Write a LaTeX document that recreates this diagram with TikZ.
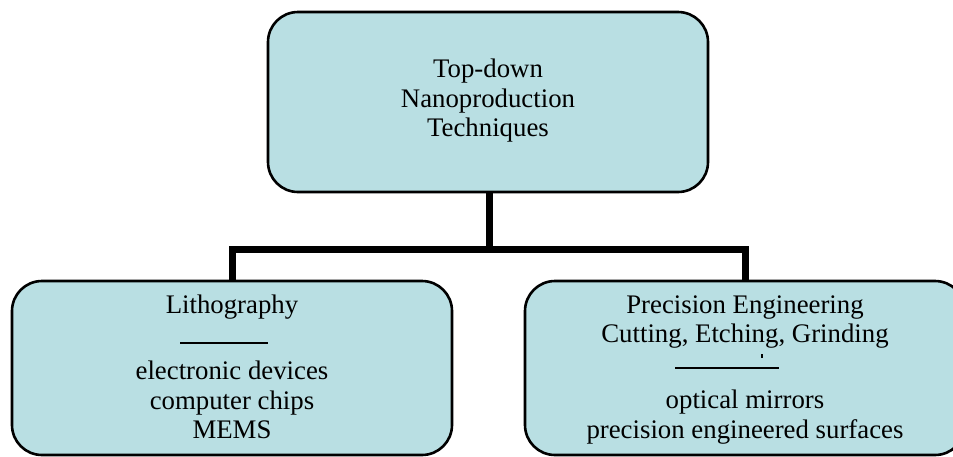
\documentclass[tikz,border=0pt]{standalone}
\usepackage{fontspec}
\setmainfont{Liberation Serif}
\definecolor{boxfill}{HTML}{B9DFE3}

\tikzstyle{box}=[draw=black, line width=2.6pt, fill=boxfill, rounded corners=30pt, inner sep=0pt]
\tikzstyle{label}=[align=center, font=\fontsize{26.8}{29.5}\selectfont, inner sep=0pt]
\tikzstyle{link}=[line width=7pt]
\tikzstyle{divider}=[line width=2pt]

\begin{document}
\begin{tikzpicture}[x=1pt, y=-1pt]
      \useasboundingbox (0, 0) rectangle (953, 456);

      \node[box, minimum width=440pt, minimum height=180pt] (top) at (488, 102) {};
      \node[box, minimum width=440pt, minimum height=174pt] (litho) at (232, 368) {};
      \node[box, minimum width=440pt, minimum height=174pt] (prec) at (745, 368) {};
      \coordinate (split) at (489, 249.5);

      \node[label] (toptext) at (488, 101) {Top-down\\Nanoproduction\\Techniques};
      \node[label] (lithohead) at (232, 307) {Lithography};
      \node[label] (lithouses) at (232, 400) {electronic devices\\computer chips\\MEMS};
      \node[label] (prechead) at (745, 322) {Precision Engineering\\Cutting, Etching, Grinding};
      \node[label] (precuses) at (745, 417) {optical mirrors\\precision engineered surfaces};

      \coordinate (lithoruleA) at (180, 343);
      \coordinate (lithoruleB) at (268, 343);
      \coordinate (precruleA) at (675, 368);
      \coordinate (precruleB) at (779, 368);
      \coordinate (tickA) at (762, 354);
      \coordinate (tickB) at (762, 358);

      \draw[divider] (lithoruleA) -- (lithoruleB);
      \draw[divider] (precruleA) -- (precruleB);
      \draw[line width=1.2pt] (tickA) -- (tickB);

      \draw[link] (top.south -| split) -- (split);
      \draw[link] (split) -| (litho.north);
      \draw[link] (split) -| (prec.north);
    \end{tikzpicture}
\end{document}
